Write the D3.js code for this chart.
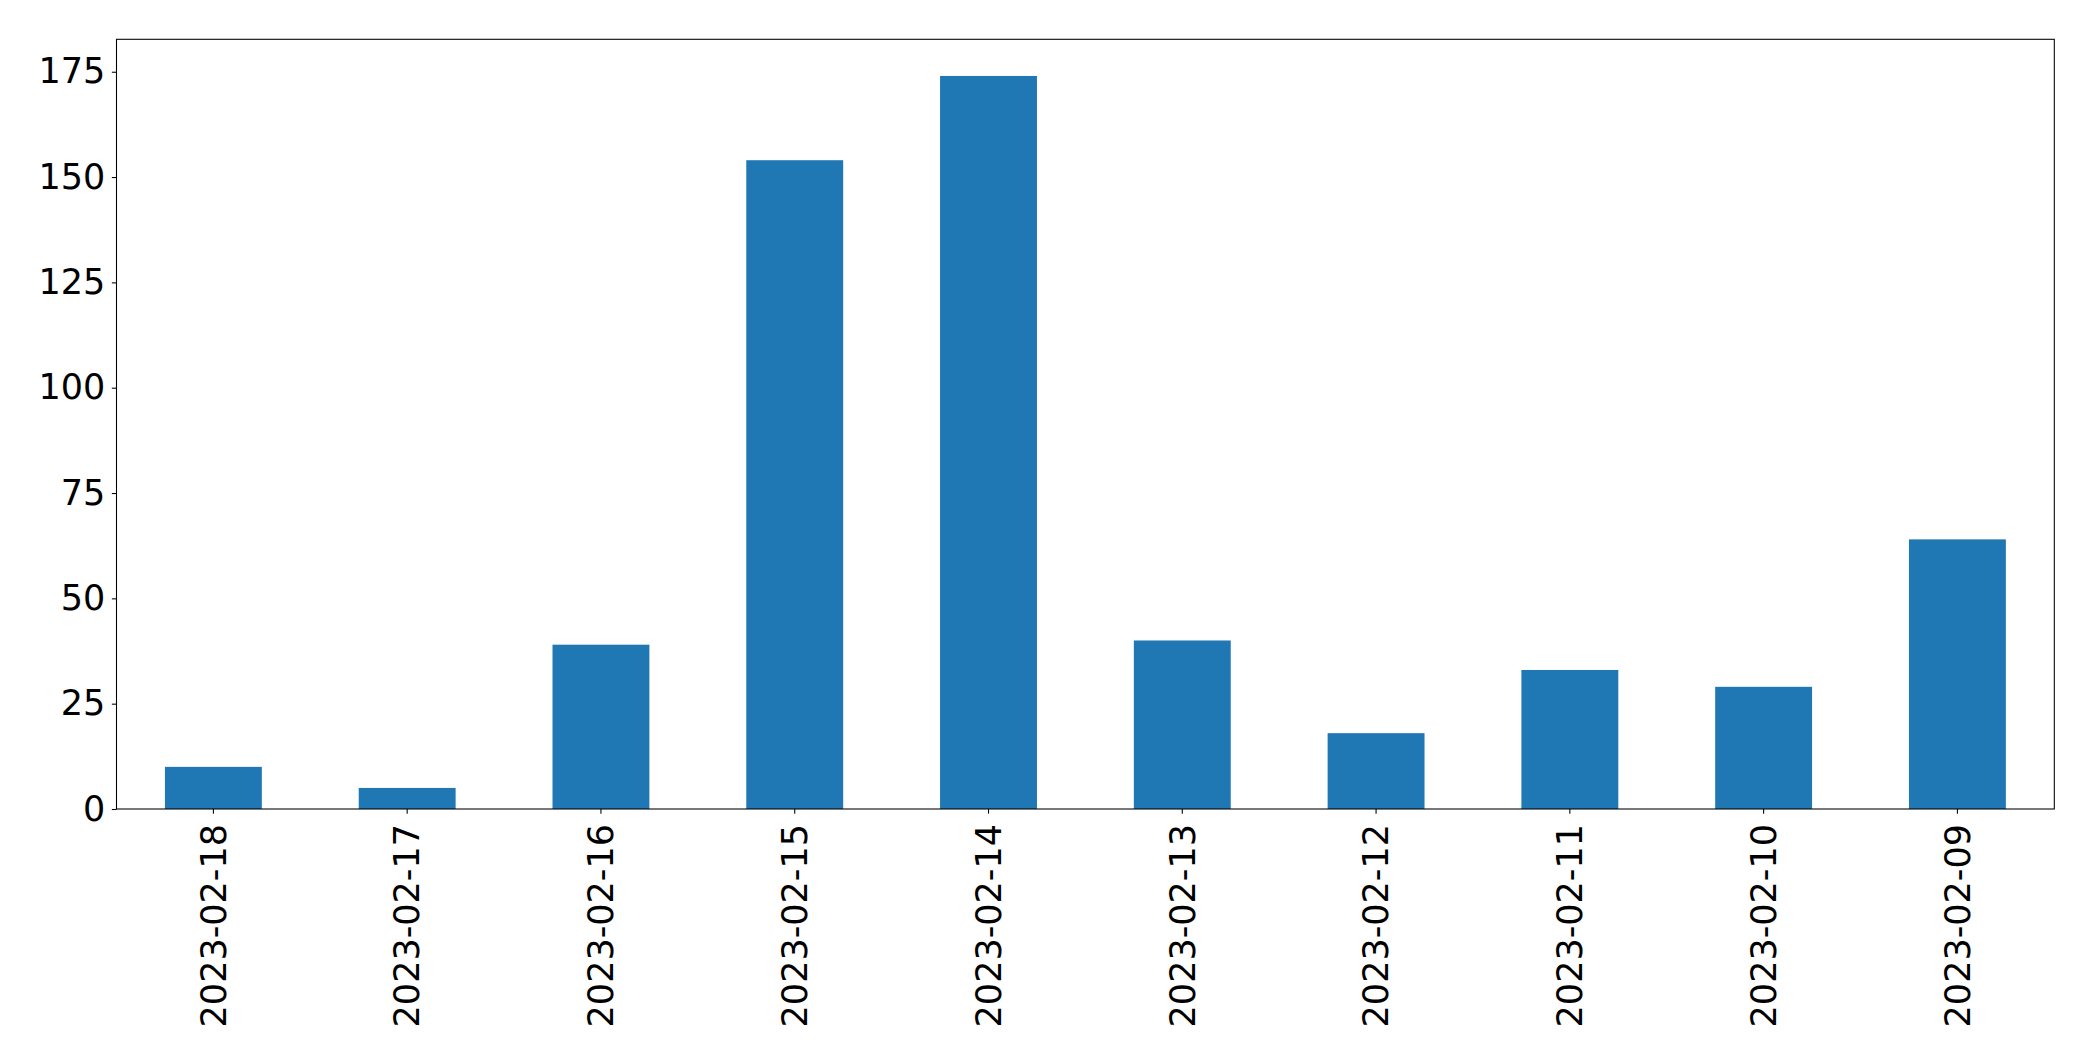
<!DOCTYPE html>
<html>
<head>
<meta charset="utf-8">
<script src="https://cdn.jsdelivr.net/npm/d3@7"></script>
<style>
html,body{margin:0;padding:0;background:#fff;}
svg{display:block;}
</style>
</head>
<body>
<svg id="chart" width="2093" height="1061"></svg>
<script>
const categories = ["2023-02-18","2023-02-17","2023-02-16","2023-02-15","2023-02-14","2023-02-13","2023-02-12","2023-02-11","2023-02-10","2023-02-09"];
const values = [10, 5, 39, 154, 174, 40, 18, 33, 29, 64];
const yTicks = [0, 25, 50, 75, 100, 125, 150, 175];

const W = 2093, H = 1061;
const m = {left: 116.5, right: 2093 - 2054.3, top: 39.3, bottom: 1061 - 809};
const svg = d3.select("#chart");
const iw = W - m.left - m.right, ih = H - m.top - m.bottom;
const g = svg.append("g").attr("transform", `translate(${m.left},${m.top})`);

const x = d3.scaleBand().domain(categories).range([0, iw]).paddingInner(0.5).paddingOuter(0.25);
const ymax = d3.max(values) * 1.05;
const y = d3.scaleLinear().domain([0, ymax]).range([ih, 0]);

g.selectAll("rect.bar").data(values).join("rect")
  .attr("class", "bar")
  .attr("x", (d, i) => x(categories[i]))
  .attr("width", x.bandwidth())
  .attr("y", d => y(d))
  .attr("height", d => ih - y(d))
  .attr("fill", "#1f77b4");

const font = "DejaVu Sans, sans-serif";
const fs = 35;

const yAxis = d3.axisLeft(y).tickValues(yTicks).tickSize(4.67).tickPadding(6.5).tickFormat(d3.format("d"));
const ya = g.append("g").call(yAxis);
ya.select(".domain").remove();
ya.selectAll("text").attr("font-family", font).attr("font-size", fs).attr("fill", "#000");
ya.selectAll("line").attr("stroke", "#000").attr("stroke-width", 1.07);

const xAxis = d3.axisBottom(x).tickSize(4.67).tickPadding(0);
const xa = g.append("g").attr("transform", `translate(0,${ih})`).call(xAxis);
xa.select(".domain").remove();
xa.selectAll("line").attr("stroke", "#000").attr("stroke-width", 1.07);
xa.selectAll("text")
  .attr("font-family", font).attr("font-size", fs).attr("fill", "#000")
  .attr("text-anchor", "end")
  .attr("transform", "translate(0,15) rotate(-90)")
  .attr("x", 0).attr("y", 0).attr("dy", "0.35em");

g.append("rect").attr("x", 0).attr("y", 0).attr("width", iw).attr("height", ih)
  .attr("fill", "none").attr("stroke", "#000").attr("stroke-width", 1.07);
</script>
</body>
</html>
